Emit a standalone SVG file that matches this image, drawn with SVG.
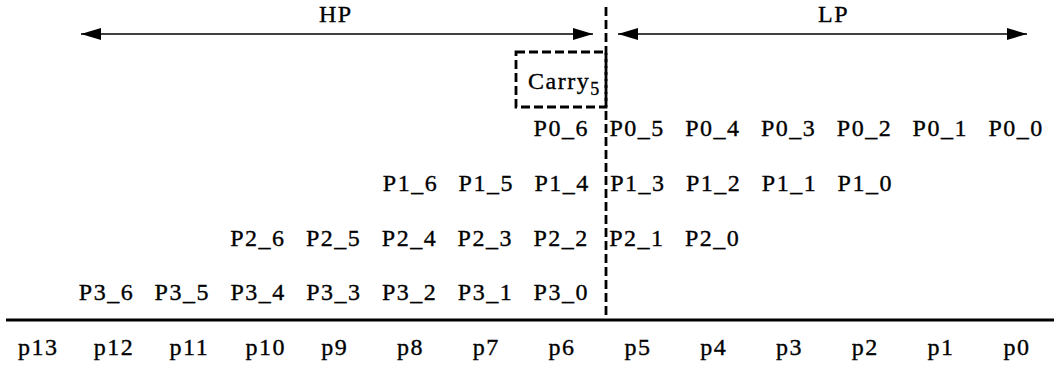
<svg xmlns="http://www.w3.org/2000/svg" width="1054" height="372" viewBox="0 0 1054 372">
<style>
text{font-family:"Liberation Serif","Times New Roman",serif;font-size:24px;letter-spacing:1.5px;fill:#000;stroke:#000;stroke-width:0.35}
.sub{font-size:18px;letter-spacing:0}
.dash{fill:none;stroke:#000;stroke-width:2.8;stroke-dasharray:9 4}
.arr{stroke:#000;stroke-width:1.5;fill:none;marker-start:url(#ah);marker-end:url(#ah)}
</style>
<defs>
<marker id="ah" markerWidth="20" markerHeight="12" refX="20" refY="6" orient="auto-start-reverse" markerUnits="userSpaceOnUse">
<path d="M0,0 L20,6 L0,12 Z" fill="#000"/>
</marker>
</defs>
<rect width="1054" height="372" fill="#fff"/>
<g id="connectors">
<line class="arr" x1="81" y1="34" x2="593" y2="34"/>
<line class="arr" x1="618" y1="34" x2="1027" y2="34"/>
<line class="dash" x1="606" y1="7" x2="606" y2="320"/>
<line x1="6" y1="320" x2="1054" y2="320" stroke="#000" stroke-width="3.2"/>
</g>
<g id="labels-top">
<text x="319" y="22">HP</text>
<text x="818" y="22">LP</text>
</g>
<g id="carry">
<rect class="dash" x="516" y="52" width="90" height="55"/>
<text x="528" y="89">Carry<tspan class="sub" dx="0" dy="6">5</tspan></text>
</g>
<g id="row0">
<text x="533.6" y="136">P0_6</text>
<text x="609.4" y="136">P0_5</text>
<text x="685.2" y="136">P0_4</text>
<text x="761" y="136">P0_3</text>
<text x="836.8" y="136">P0_2</text>
<text x="912.6" y="136">P0_1</text>
<text x="988.4" y="136">P0_0</text>
</g>
<g id="row1">
<text x="382.8" y="191">P1_6</text>
<text x="458.6" y="191">P1_5</text>
<text x="534.4" y="191">P1_4</text>
<text x="610.2" y="191">P1_3</text>
<text x="686" y="191">P1_2</text>
<text x="761.8" y="191">P1_1</text>
<text x="837.6" y="191">P1_0</text>
</g>
<g id="row2">
<text x="230.2" y="246">P2_6</text>
<text x="306" y="246">P2_5</text>
<text x="381.8" y="246">P2_4</text>
<text x="457.6" y="246">P2_3</text>
<text x="533.4" y="246">P2_2</text>
<text x="609.2" y="246">P2_1</text>
<text x="685" y="246">P2_0</text>
</g>
<g id="row3">
<text x="78.8" y="300">P3_6</text>
<text x="154.6" y="300">P3_5</text>
<text x="230.4" y="300">P3_4</text>
<text x="306.2" y="300">P3_3</text>
<text x="382" y="300">P3_2</text>
<text x="457.8" y="300">P3_1</text>
<text x="533.6" y="300">P3_0</text>
</g>
<g id="bits">
<text x="18" y="355">p13</text>
<text x="93.8" y="355">p12</text>
<text x="169.6" y="355">p11</text>
<text x="245.4" y="355">p10</text>
<text x="321.2" y="355">p9</text>
<text x="397" y="355">p8</text>
<text x="472.8" y="355">p7</text>
<text x="548.6" y="355">p6</text>
<text x="624.4" y="355">p5</text>
<text x="700.2" y="355">p4</text>
<text x="776" y="355">p3</text>
<text x="851.8" y="355">p2</text>
<text x="927.6" y="355">p1</text>
<text x="1003.4" y="355">p0</text>
</g>
</svg>
